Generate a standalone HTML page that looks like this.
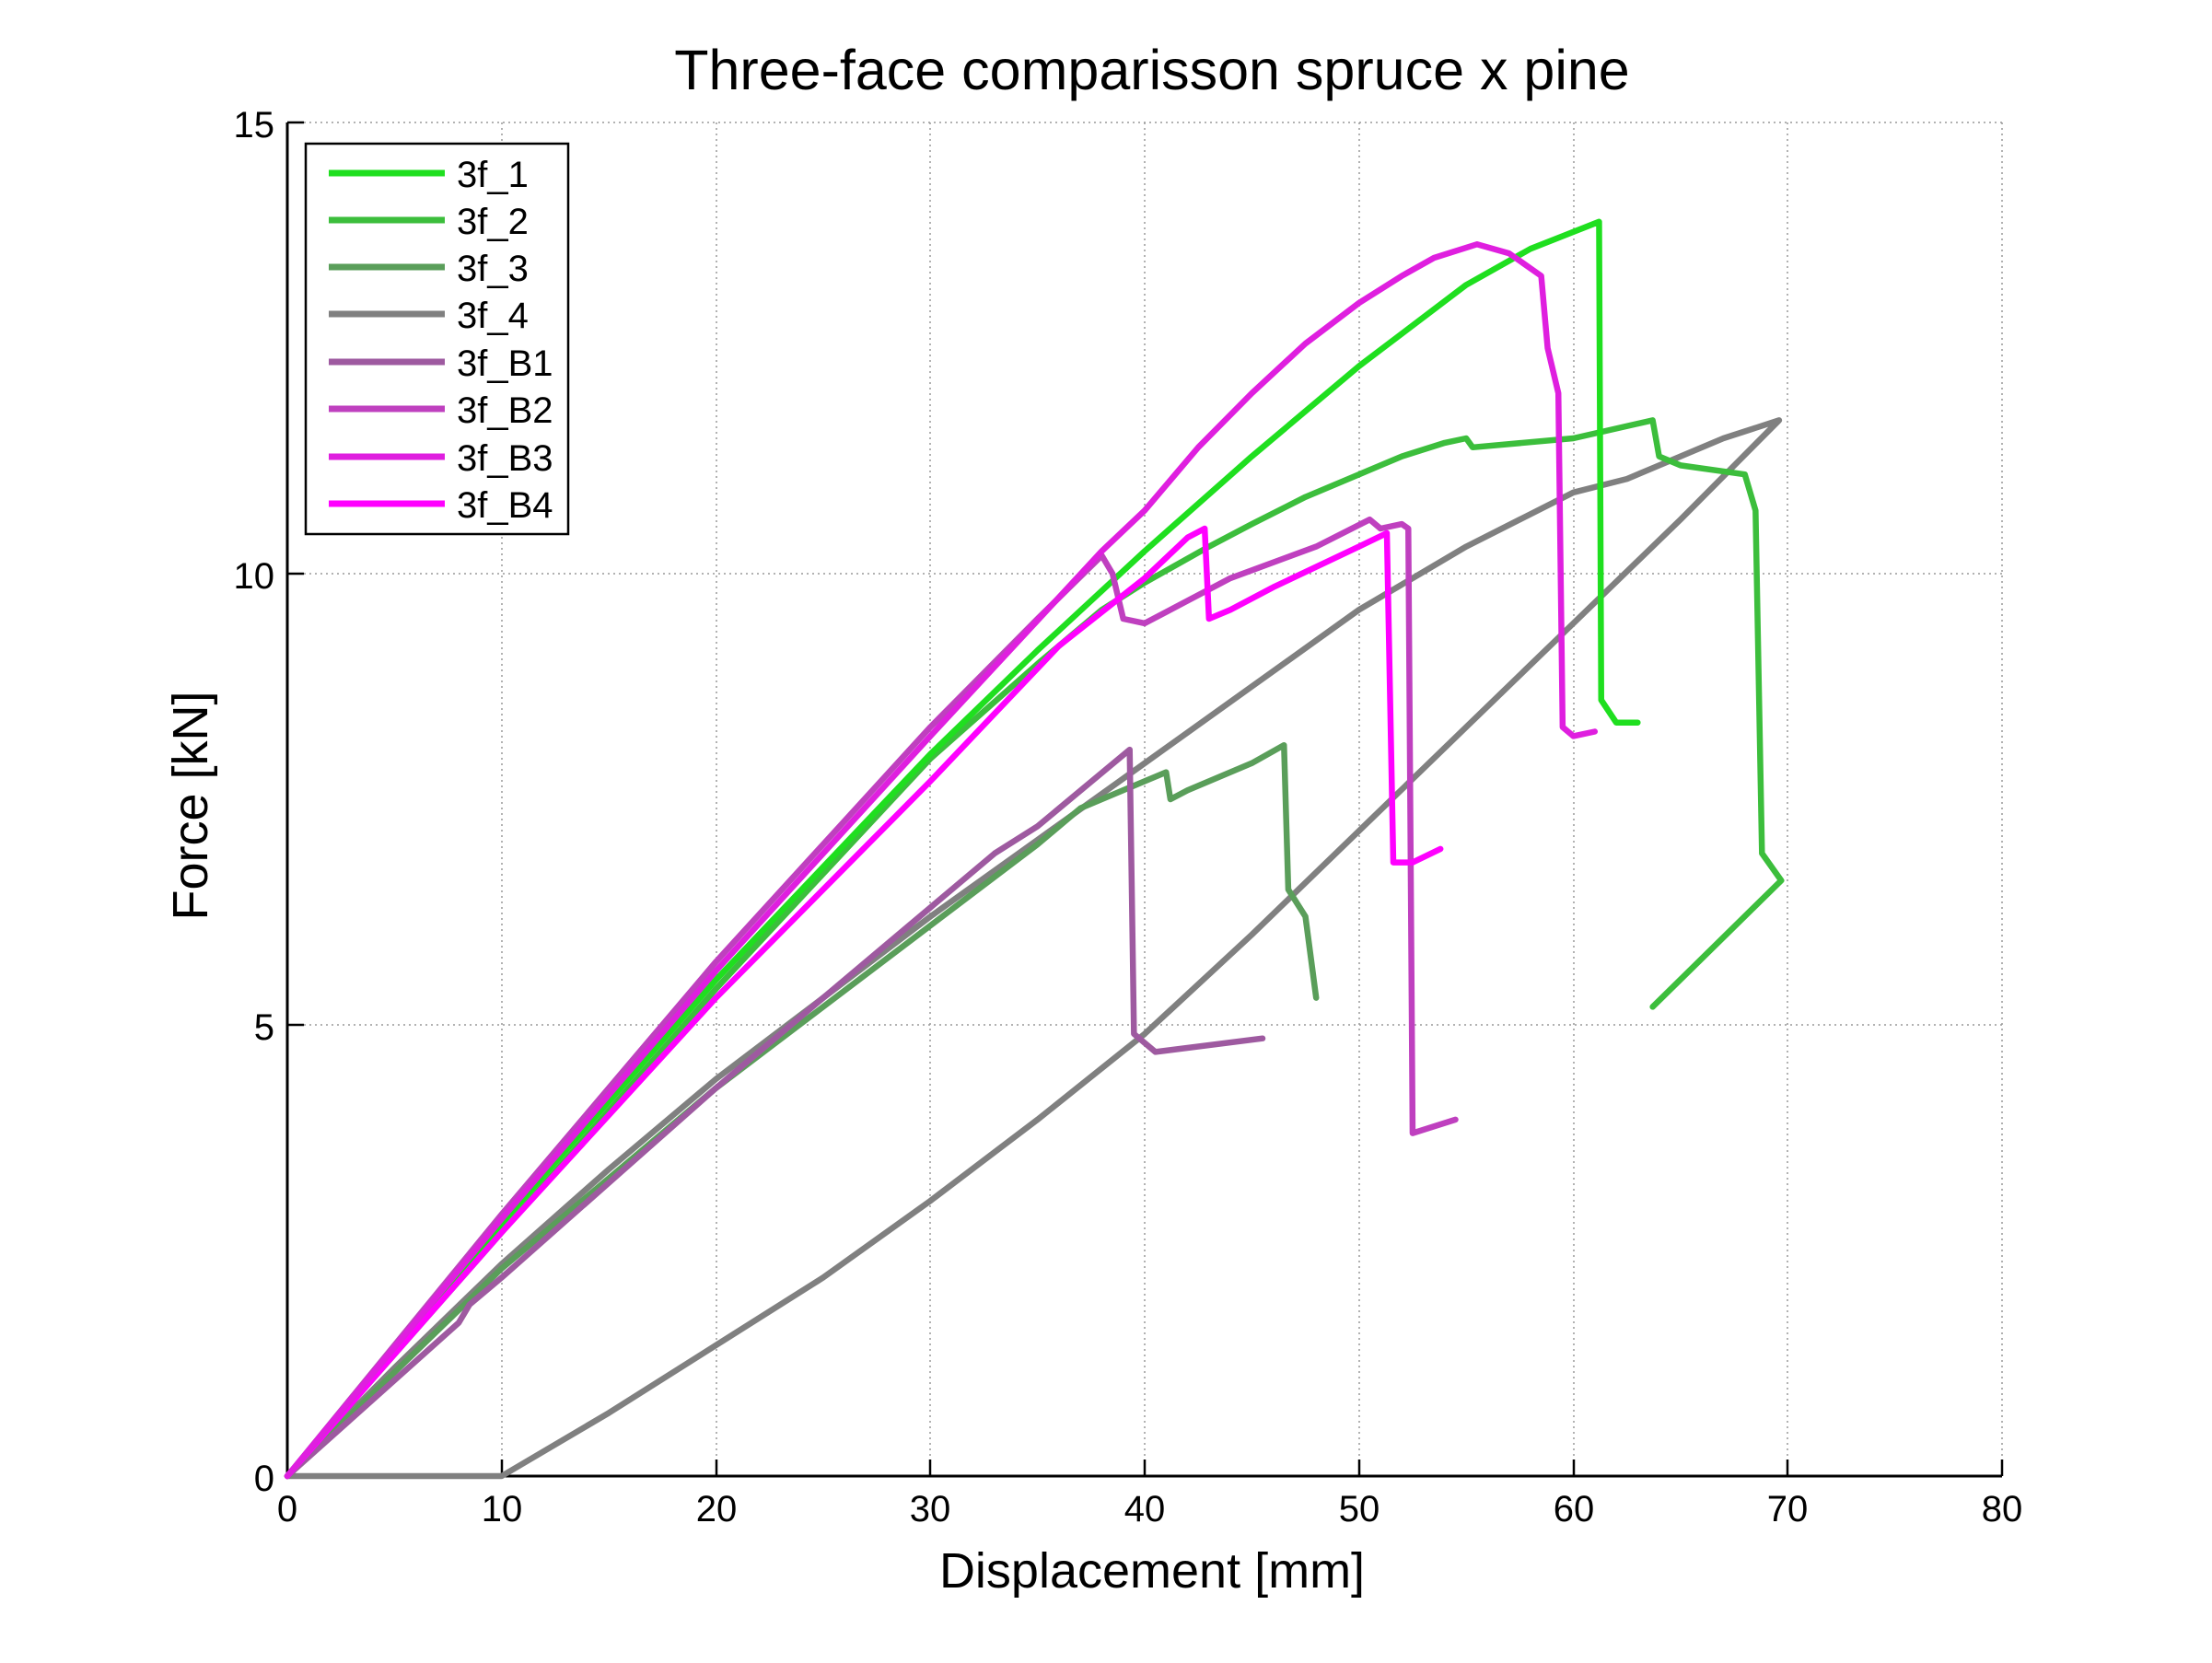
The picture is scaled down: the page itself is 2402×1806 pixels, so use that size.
<!DOCTYPE html>
<html><head><meta charset="utf-8"><style>html,body{margin:0;padding:0;background:#fff}</style></head>
<body>
<svg width="2402" height="1801" xmlns="http://www.w3.org/2000/svg" font-family="Liberation Sans, Arial, sans-serif">
<rect width="2402" height="1801" fill="#fff"/>
<g stroke="#999" stroke-width="1.5" stroke-dasharray="2,4">
<line x1="545" y1="133" x2="545" y2="1603"/><line x1="778" y1="133" x2="778" y2="1603"/>
<line x1="1010" y1="133" x2="1010" y2="1603"/><line x1="1243" y1="133" x2="1243" y2="1603"/>
<line x1="1476" y1="133" x2="1476" y2="1603"/><line x1="1709" y1="133" x2="1709" y2="1603"/>
<line x1="1941" y1="133" x2="1941" y2="1603"/><line x1="2174" y1="133" x2="2174" y2="1603"/>
<line x1="312" y1="133" x2="2174" y2="133"/><line x1="312" y1="623" x2="2174" y2="623"/>
<line x1="312" y1="1113" x2="2174" y2="1113"/>
</g>
<g stroke="#000" stroke-width="3" fill="none">
<polyline points="312,133 312,1603 2174,1603"/>
<g stroke-width="2.5">
<line x1="545" y1="1603" x2="545" y2="1585"/><line x1="778" y1="1603" x2="778" y2="1585"/><line x1="1010" y1="1603" x2="1010" y2="1585"/><line x1="1243" y1="1603" x2="1243" y2="1585"/><line x1="1476" y1="1603" x2="1476" y2="1585"/><line x1="1709" y1="1603" x2="1709" y2="1585"/><line x1="1941" y1="1603" x2="1941" y2="1585"/><line x1="2174" y1="1603" x2="2174" y2="1585"/>
<line x1="312" y1="133" x2="330" y2="133"/><line x1="312" y1="623" x2="330" y2="623"/><line x1="312" y1="1113" x2="330" y2="1113"/>
</g></g>
<g font-size="40" fill="#000" text-anchor="middle">
<text x="312" y="1652">0</text><text x="545" y="1652">10</text><text x="778" y="1652">20</text><text x="1010" y="1652">30</text><text x="1243" y="1652">40</text><text x="1476" y="1652">50</text><text x="1709" y="1652">60</text><text x="1941" y="1652">70</text><text x="2174" y="1652">80</text>
</g>
<g font-size="40" fill="#000" text-anchor="end">
<text x="298" y="149">15</text><text x="298" y="639">10</text><text x="298" y="1129">5</text><text x="298" y="1619">0</text>
</g>
<text x="1251" y="97" font-size="61" text-anchor="middle">Three-face comparisson spruce x pine</text>
<text x="1251" y="1724" font-size="54" text-anchor="middle">Displacement [mm]</text>
<text transform="translate(225,875) rotate(-90)" font-size="54" text-anchor="middle">Force [kN]</text>
<g fill="none" stroke-width="6.5" stroke-linejoin="round" stroke-linecap="round">
<g transform="translate(312,1603) scale(23.275,-98)">
<polyline vector-effect="non-scaling-stroke" stroke="#808080" points="0,0 10,0 15,0.7 20,1.45 25,2.2 30,3.05 35,3.95 40,4.9 45,6.0 50,7.15 55,8.3 60,9.45 65,10.6 69.6,11.7 67,11.5 65,11.3 62.5,11.05 60,10.9 57.5,10.6 55,10.3 52.5,9.95 50,9.6 45,8.75 40,7.9 35,7.05 30,6.2 25,5.3 20,4.4 15,3.4 10,2.35 5,1.2 0,0"/>
<polyline vector-effect="non-scaling-stroke" stroke="#5a9e5a" points="0,0 10,2.3 20,4.3 30,6.1 35,7.0 37,7.4 40,7.7 41,7.8 41.2,7.5 42,7.6 45,7.9 46.5,8.1 46.7,6.5 47.5,6.2 48,5.3"/>
<polyline vector-effect="non-scaling-stroke" stroke="#9e5aa0" points="0,0 8,1.7 8.5,1.9 10,2.2 20,4.3 30,6.3 33,6.9 35,7.2 39.3,8.05 39.5,4.9 40.5,4.7 45.5,4.85"/>
<polyline vector-effect="non-scaling-stroke" stroke="#3cbe3c" points="0,0 10,2.7 20,5.4 30,7.95 35,9.0 38,9.6 40,9.9 43,10.3 45,10.55 47.5,10.85 50,11.1 52,11.3 54,11.45 55,11.5 55.3,11.4 60,11.5 63.7,11.7 64,11.3 65,11.2 68,11.1 68.5,10.7 68.8,6.9 69.7,6.6 63.7,5.2"/>
<polyline vector-effect="non-scaling-stroke" stroke="#1fdf1f" points="0,0 10,2.8 20,5.5 30,8.0 35,9.15 40,10.25 45,11.3 50,12.3 55,13.2 58,13.6 61.2,13.9 61.3,8.6 62,8.35 63,8.35"/>
<polyline vector-effect="non-scaling-stroke" stroke="#bf40bf" points="0,0 10,2.9 20,5.7 30,8.3 35,9.5 38,10.2 38.5,10.0 39,9.5 40,9.45 42,9.7 44,9.95 48,10.3 50.5,10.6 51,10.5 52,10.55 52.3,10.5 52.5,3.8 54.5,3.95"/>
<polyline vector-effect="non-scaling-stroke" stroke="#ff00ff" points="0,0 10,2.7 20,5.3 30,7.7 36,9.2 40,9.95 42,10.4 42.8,10.5 43,9.5 44,9.6 46,9.85 50,10.3 51.3,10.45 51.6,6.8 52.5,6.8 53.8,6.95"/>
<polyline vector-effect="non-scaling-stroke" stroke="#df1fdf" points="0,0 10,2.85 20,5.6 30,8.2 38,10.25 40,10.7 42.5,11.4 45,12.0 47.5,12.55 50,13.0 52,13.3 53.5,13.5 55.5,13.65 57,13.55 58.5,13.3 58.8,12.5 59.3,12 59.5,8.3 60,8.2 61,8.25"/>
</g></g>
<rect x="332" y="156" width="285" height="424" fill="#fff" stroke="#000" stroke-width="2.5"/>
<g stroke-width="7">
<line x1="357" x2="483" y1="188" y2="188" stroke="#1fdf1f"/>
<line x1="357" x2="483" y1="239" y2="239" stroke="#3cbe3c"/>
<line x1="357" x2="483" y1="290" y2="290" stroke="#5a9e5a"/>
<line x1="357" x2="483" y1="341" y2="341" stroke="#808080"/>
<line x1="357" x2="483" y1="393" y2="393" stroke="#9e5aa0"/>
<line x1="357" x2="483" y1="444" y2="444" stroke="#bf40bf"/>
<line x1="357" x2="483" y1="496" y2="496" stroke="#df1fdf"/>
<line x1="357" x2="483" y1="547" y2="547" stroke="#ff00ff"/>
</g>
<g font-size="40" fill="#000">
<text x="496" y="203">3f_1</text><text x="496" y="254">3f_2</text><text x="496" y="305">3f_3</text><text x="496" y="356">3f_4</text>
<text x="496" y="408">3f_B1</text><text x="496" y="459">3f_B2</text><text x="496" y="511">3f_B3</text><text x="496" y="562">3f_B4</text>
</g>
</svg>
</body></html>
